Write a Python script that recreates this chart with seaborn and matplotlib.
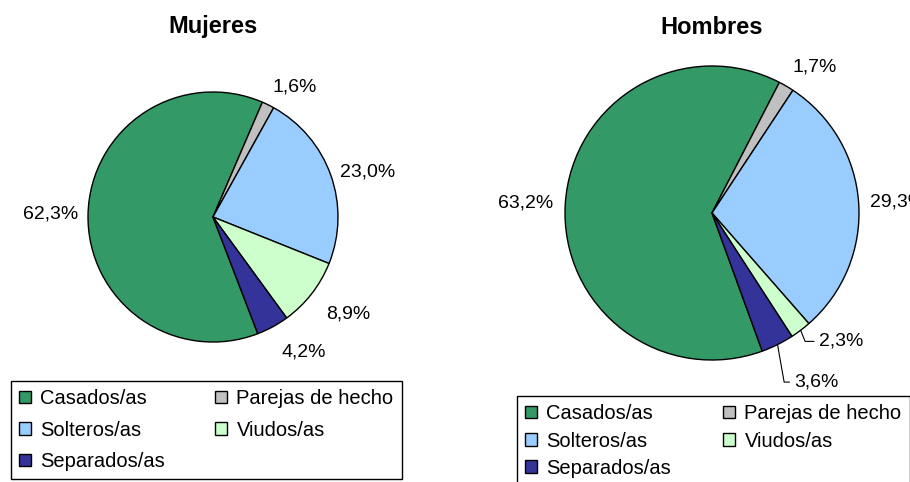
import numpy as np
import seaborn as sns
import matplotlib
matplotlib.use("Agg")
import matplotlib.pyplot as plt

###############################################################################
# Data
###############################################################################
categories = ["Casados/as", "Parejas de hecho", "Solteros/as", "Viudos/as", "Separados/as"]
mujeres = [62.3, 1.6, 23.0, 8.9, 4.2]
hombres = [63.2, 1.7, 29.3, 2.3, 3.6]
titles = ["Mujeres", "Hombres"]
slice_colors = ["#339966", "#C0C0C0", "#99CCFF", "#CCFFCC", "#333399"]

###############################################################################
# Style
###############################################################################
sns.set_style("white")
plt.rcParams['font.family'] = ['Liberation Sans', 'DejaVu Sans']
plt.rcParams['text.color'] = 'black'
palette = sns.color_palette(slice_colors)

fig = plt.figure(figsize=(9.1, 4.82), dpi=100)
W, H = 910, 482


def pie_axes(cx, cy, r, lim=1.2):
    # square axes in pixel units, centred on (cx, cy) measured from the top
    side = 2 * r * lim
    return fig.add_axes([(cx - side / 2) / W, (H - cy - side / 2) / H, side / W, side / H])


def fmt(v):
    return f"{v:.1f}%".replace('.', ',')


def draw_pie(ax, values, start, callouts=None):
    wedges, _ = ax.pie(values, colors=palette, startangle=start, counterclock=False,
                       wedgeprops=dict(edgecolor='black', linewidth=1))
    ax.set_xlim(-1.2, 1.2)
    ax.set_ylim(-1.2, 1.2)
    ax.set_axis_off()
    callouts = callouts or {}
    for i, (w, v) in enumerate(zip(wedges, values)):
        ang = np.deg2rad((w.theta1 + w.theta2) / 2)
        c, s = np.cos(ang), np.sin(ang)
        if i in callouts:
            dx, dy, angB = callouts[i]
            ax.annotate(fmt(v), xy=(c, s), xytext=(dx, dy), textcoords='offset points',
                        ha='left', va='center', fontsize=14, color='black',
                        arrowprops=dict(arrowstyle='-', color='black', lw=0.8,
                                        shrinkA=1, shrinkB=0,
                                        connectionstyle=f"angle,angleA=0,angleB={angB},rad=0"))
            continue
        ha = 'left' if c > 0 else 'right'
        va = 'bottom' if s > 0.5 else ('top' if s < -0.5 else 'center')
        d = 1.15 if s < -0.5 else 1.08
        ax.text(d * c, d * s, fmt(v), ha=ha, va=va, fontsize=14, color='black')
    return wedges


ax1 = pie_axes(213, 217, 125)
wedges1 = draw_pie(ax1, mujeres, 291)

ax2 = pie_axes(712, 213, 147)
wedges2 = draw_pie(ax2, hombres, 290, callouts={3: (13, -8, -68), 4: (12, -27, -80)})

fig.text(213 / W, 1 - 27 / H, titles[0], ha='center', va='center',
         fontsize=17, fontweight='bold', color='black')
fig.text(712 / W, 1 - 27 / H, titles[1], ha='center', va='center',
         fontsize=17, fontweight='bold', color='black')

###############################################################################
# Legends (row-wise order, as in the original)
###############################################################################
order = [0, 2, 4, 1, 3]
common = dict(ncol=2, loc='upper left', fontsize=14.5, frameon=True, fancybox=False,
              edgecolor='black', framealpha=1, handlelength=0.6, handleheight=0.6,
              handletextpad=0.45, borderpad=0.4, borderaxespad=0, labelcolor='black')

leg1 = fig.legend([wedges1[i] for i in order], [categories[i] for i in order],
                  bbox_to_anchor=(11 / W, 1 - 381 / H),
                  columnspacing=2.5, labelspacing=0.62, **common)
leg2 = fig.legend([wedges2[i] for i in order], [categories[i] for i in order],
                  bbox_to_anchor=(517 / W, 1 - 396 / H),
                  columnspacing=2.6, labelspacing=0.42, **common)
for leg in (leg1, leg2):
    leg.get_frame().set_linewidth(1)

fig.savefig("out.png", dpi=100)
